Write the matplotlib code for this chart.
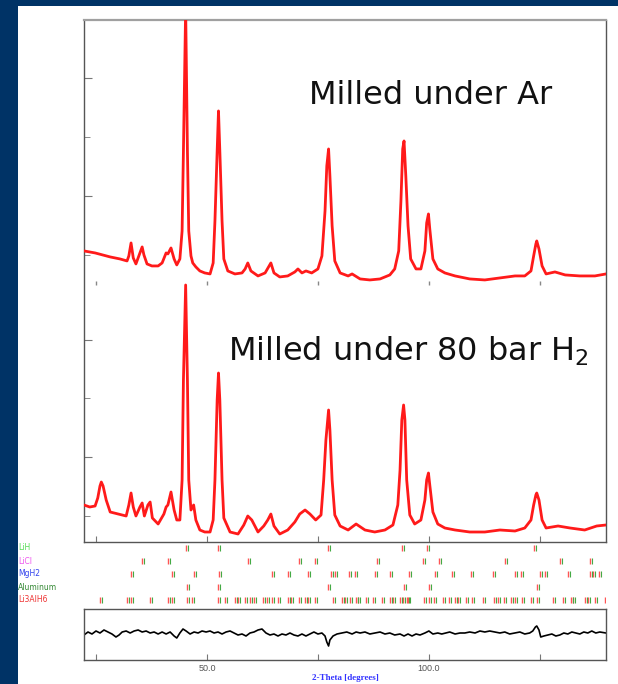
import matplotlib
matplotlib.use('Agg')
import matplotlib.pyplot as plt
from matplotlib.patches import Rectangle

# ---- data (2-theta in degrees, intensity in counts) ----
tth_ar = [22.3, 24.8, 28.2, 30.4, 32.0, 32.4, 32.9, 33.4, 34.0, 34.9, 35.4, 35.8, 36.5, 37.6,
          39.0, 39.9, 40.8, 41.2, 41.9, 42.6, 43.2, 43.9, 44.4, 44.7, 45.2, 45.6, 45.9, 46.4,
          46.8, 47.5, 48.4, 49.5, 50.7, 51.4, 51.8, 52.3, 52.6, 52.9, 53.4, 53.8, 54.7, 56.3,
          57.9, 58.6, 59.2, 59.9, 61.5, 63.1, 64.4, 65.1, 66.4, 68.2, 69.8, 70.5, 71.4, 72.3,
          73.6, 75.0, 75.9, 76.6, 77.0, 77.4, 77.7, 78.2, 78.8, 80.0, 81.8, 82.7, 84.5, 86.7,
          89.0, 91.2, 92.3, 93.2, 93.7, 94.1, 94.4, 94.8, 95.3, 95.9, 97.1, 98.2, 99.1, 99.5,
          99.9, 100.2, 100.9, 102.0, 103.6, 105.9, 109.2, 112.6, 116.0, 119.4, 121.6, 123.0,
          123.6, 124.1, 124.3, 124.8, 125.5, 126.4, 128.4, 130.7, 134.0, 137.4, 139.9]
int_ar = [1065, 1031, 963, 929, 895, 980, 1201, 946, 844, 1031, 1133, 997, 844, 810,
          810, 861, 1031, 1014, 1116, 929, 827, 929, 1405, 2765, 5200, 2765, 1405, 980,
          861, 793, 725, 691, 674, 861, 1575, 2765, 3445, 2765, 1575, 929, 725, 674,
          691, 759, 861, 725, 640, 691, 861, 691, 623, 640, 708, 759, 691, 725,
          691, 759, 980, 1745, 2510, 2799, 2340, 1490, 895, 691, 640, 674, 589, 572,
          589, 657, 759, 1065, 1915, 2799, 2935, 2340, 1490, 929, 759, 759, 1065, 1541,
          1694, 1439, 929, 759, 691, 640, 589, 572, 606, 640, 640, 725,
          980, 1184, 1235, 1099, 810, 674, 708, 657, 640, 640, 674]

tth_h2 = [22.3, 23.6, 24.8, 25.4, 25.9, 26.2, 26.6, 27.3, 28.2, 30.0, 31.8, 32.4, 32.9, 33.4,
          34.0, 34.9, 35.4, 35.9, 36.7, 37.2, 37.7, 39.0, 40.3, 40.8, 41.2, 41.9, 42.6, 43.2,
          43.9, 44.4, 44.7, 45.2, 45.6, 45.9, 46.4, 47.0, 47.5, 48.4, 49.5, 50.7, 51.4, 51.8,
          52.3, 52.6, 52.9, 53.4, 53.8, 55.2, 57.0, 58.3, 59.2, 60.1, 61.5, 62.8, 63.7, 64.4,
          65.1, 66.4, 68.2, 69.8, 70.9, 72.1, 73.2, 74.5, 75.7, 76.3, 76.8, 77.4, 77.7, 78.2,
          78.8, 80.0, 81.8, 83.6, 85.6, 87.8, 90.1, 91.9, 93.0, 93.5, 93.9, 94.3, 94.6, 95.0,
          95.7, 96.8, 98.2, 99.1, 99.5, 99.9, 100.2, 100.9, 102.0, 103.6, 105.9, 109.2, 112.6,
          116.0, 119.4, 121.6, 123.0, 123.6, 124.1, 124.3, 124.8, 125.5, 126.4, 129.1, 131.8,
          135.1, 137.8, 139.9]
int_h2 = [1187, 1153, 1170, 1306, 1510, 1578, 1510, 1272, 1068, 1034, 1000, 1187, 1391, 1153,
          1000, 1153, 1221, 1000, 1187, 1238, 966, 864, 1034, 1153, 1187, 1408, 1102, 932,
          932, 1612, 3312, 4927, 3312, 1612, 1102, 1187, 932, 762, 728, 728, 932, 1612,
          2972, 3431, 2972, 1612, 966, 728, 694, 847, 1000, 932, 728, 830, 932, 1034,
          830, 694, 762, 898, 1034, 1102, 1034, 932, 1017, 1612, 2292, 2802, 2462, 1612,
          1017, 830, 762, 864, 762, 728, 762, 847, 1187, 1782, 2632, 2887, 2632, 1612,
          1017, 864, 932, 1272, 1612, 1731, 1527, 1068, 864, 796, 762, 728, 728,
          762, 745, 796, 932, 1187, 1357, 1391, 1272, 932, 796, 830, 796,
          762, 830, 847]

tth_diff = [22.3, 23.2, 24.1, 25.0, 25.9, 26.8, 27.7, 28.6, 29.5, 30.2, 30.9, 31.8, 32.7, 33.6,
            34.5, 35.4, 36.3, 37.2, 38.1, 39.0, 39.9, 40.8, 41.7, 42.6, 43.2, 43.9, 44.6, 45.3,
            46.2, 47.1, 48.0, 48.9, 49.8, 50.7, 51.6, 52.5, 53.4, 54.3, 55.2, 56.1, 57.0, 57.9,
            58.8, 59.7, 60.6, 61.5, 62.4, 63.3, 64.2, 65.1, 66.0, 66.9, 67.8, 68.7, 69.6, 70.5,
            71.4, 72.3, 73.2, 74.1, 75.0, 75.9, 76.6, 77.0, 77.4, 77.7, 78.4, 79.3, 80.4, 81.5,
            82.7, 83.6, 84.5, 85.6, 86.7, 87.8, 89.0, 90.1, 91.2, 92.3, 93.5, 94.4, 95.3, 96.2,
            97.1, 98.0, 99.1, 100.0, 100.9, 102.0, 102.9, 103.8, 104.7, 105.9, 107.0, 108.1,
            109.2, 110.4, 111.5, 112.6, 113.7, 114.9, 116.0, 117.1, 118.2, 119.4, 120.5, 121.6,
            122.7, 123.4, 124.0, 124.3, 124.8, 125.2, 125.9, 126.8, 127.7, 128.6, 129.5, 130.4,
            131.3, 132.2, 133.1, 134.0, 134.9, 135.8, 136.7, 137.6, 138.5, 139.9]
int_diff = [-34, 17, -17, 34, 0, 51, 17, -17, -68, -34, 17, 34, 0, 34,
            51, 17, 34, 0, 17, -17, 17, -17, 17, -51, -85, 0, 68, 34,
            -17, 17, 0, 34, 17, 34, 0, 17, -17, 17, 34, 0, -34, -17,
            -51, 0, 17, 51, 68, 0, -34, -17, -51, -17, -34, 0, -34, -51,
            -17, -51, -17, 17, -17, 0, -51, -153, -221, -119, -51, -17, 0, 17,
            -17, 17, 0, 17, -17, 0, 17, -17, 0, -34, -17, -51, -17, -51,
            -17, -34, 0, 34, -17, 0, -17, 0, 17, -17, 0, 0,
            17, 0, 34, 17, 34, 17, 0, 17, -17, 0, 17, -17,
            0, 34, 102, 119, 51, -68, -51, -34, -17, -51, -34, 0,
            -17, 17, 0, -17, 17, 0, 34, 0, 17, 0]

# reflection positions per phase
phases = ['LiH', 'LiCl', 'MgH2', 'Aluminum', 'Li3AlH6']
phase_colors = ['#55dd55', '#ee55ee', '#3344ee', '#338833', '#ee3333']
refl = [
    [45.3, 52.5, 77.3, 93.9, 99.5, 123.6],
    [35.4, 41.2, 59.2, 70.7, 74.3, 88.3, 98.6, 102.3, 117.1, 129.5, 136.3],
    [32.9, 42.1, 47.1, 52.7, 64.6, 68.2, 72.7, 77.9, 78.8, 82.0, 83.3, 87.8, 91.2, 95.5,
     101.4, 105.2, 109.5, 114.4, 119.4, 120.7, 125.0, 126.1, 131.3, 136.3, 136.9, 138.3],
    [45.5, 52.5, 77.3, 94.4, 100.0, 124.3],
    [25.9, 32.0, 32.9, 37.2, 41.2, 42.1, 45.5, 46.6, 52.5, 54.1, 56.3, 57.0, 58.6, 59.7,
     60.6, 62.6, 63.5, 64.6, 66.0, 68.2, 68.9, 70.7, 72.1, 72.7, 74.3, 78.4, 80.4, 81.1,
     82.2, 83.6, 84.0, 85.8, 87.4, 89.4, 91.2, 91.9, 93.5, 94.1, 95.0, 95.3, 98.8, 100.0,
     101.1, 103.2, 104.5, 105.9, 106.5, 108.3, 109.7, 112.2, 114.6, 115.5, 116.9, 118.5,
     119.4, 120.9, 123.0, 124.3, 127.9, 130.2, 132.0, 132.4, 135.1, 135.8, 137.4, 139.6],
]

offset_ar = 4441          # vertical offset of the Ar pattern
xticks = [25, 50, 75, 100, 125]
xticklabels = ['', '50.0', '', '100.0', '']

# ---- figure ----
W, H = 618, 684
fig = plt.figure(figsize=(W / 100, H / 100), dpi=100)
fig.patch.set_facecolor('#003366')
fig.patches.append(Rectangle((18 / W, 0), 1 - 18 / W, 1 - 6 / H, transform=fig.transFigure,
                             facecolor='white', edgecolor='none', zorder=-5))

def fx(px):
    return px / W

def fy(py):
    return 1 - py / H

xlim = (22.3, 139.9)
edge = '#555555'

# main pattern axes
ax = fig.add_axes([fx(84), fy(542), fx(606) - fx(84), fy(20) - fy(542)])
ax.patch.set_alpha(0)
ax.plot(tth_h2, int_h2, color='#ff1a1a', lw=2.0, zorder=3)
ax.plot(tth_ar, [v + offset_ar for v in int_ar], color='#ff1a1a', lw=2.0, zorder=3)
ax.vlines(xticks, offset_ar + 480, offset_ar + 560, color='#888888', lw=1)
ax.set_xlim(*xlim)
ax.set_ylim(558, 9432)
ax.set_yticks([2000, 4000, 2000 + offset_ar, 4000 + offset_ar])
ax.set_yticks([1000, 3000, 1000 + offset_ar, 3000 + offset_ar], minor=True)
ax.set_xticks(xticks)
ax.tick_params(axis='y', which='major', direction='in', length=6, color='#777777',
               labelleft=False)
ax.tick_params(axis='y', which='minor', direction='in', length=4, color='#777777')
ax.tick_params(axis='x', direction='in', length=4, color='#777777', labelbottom=False)
for s in ['left', 'right', 'bottom']:
    ax.spines[s].set_color(edge)
    ax.spines[s].set_linewidth(1)
ax.spines['top'].set_color('#a0a0a0')
ax.spines['top'].set_linewidth(1.6)

# reflection markers
axr = fig.add_axes([fx(84), fy(608), fx(606) - fx(84), fy(543) - fy(608)])
axr.set_xlim(*xlim)
axr.set_ylim(4.615, -0.385)
axr.axis('off')
for i, pos in enumerate(refl):
    axr.vlines(pos, i - 0.24, i + 0.24, color='#ff5555', lw=1)
    axr.vlines([p + 0.45 for p in pos], i - 0.2, i + 0.2, color='#44aa44', lw=0.8)
    fig.text(fx(18), fy(548 + 13 * i), phases[i], color=phase_colors[i], fontsize=5.5,
             va='center', ha='left')

# difference curve
axd = fig.add_axes([fx(84), fy(660), fx(606) - fx(84), fy(609) - fy(660)])
axd.patch.set_alpha(0)
axd.plot(tth_diff, int_diff, color='black', lw=1.2)
axd.set_xlim(*xlim)
axd.set_ylim(-459, 408)
axd.set_yticks([])
axd.set_xticks(xticks)
axd.set_xticklabels(xticklabels, fontsize=6.5, color='#555555', family='Liberation Sans')
axd.tick_params(axis='x', direction='in', length=4, color='#777777', pad=3)
for s in axd.spines.values():
    s.set_color(edge)
    s.set_linewidth(1)

fig.text(fx(345), fy(678), '2-Theta [degrees]', color='#3333ff', fontsize=6.5,
         family='Liberation Serif', weight='bold', ha='center', va='center')

fig.text(fx(309), fy(104), 'Milled under Ar', fontsize=23, color='#111111',
         ha='left', va='baseline')
fig.text(fx(228), fy(361), 'Milled under 80 bar H$_2$', fontsize=23, color='#111111',
         ha='left', va='baseline')

plt.savefig('out.png', dpi=100, facecolor=fig.get_facecolor())
